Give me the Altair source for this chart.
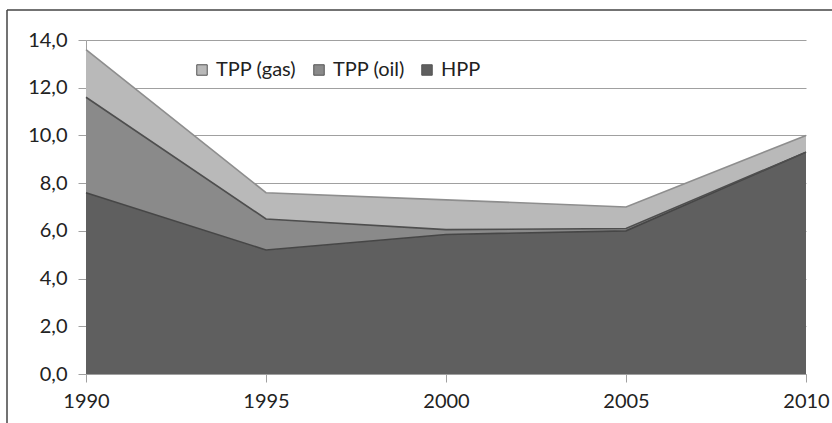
import altair as alt
import pandas as pd

# Electricity generation by source, stacked
years = [1990, 1995, 2000, 2005, 2010]
hpp = [7.6, 5.2, 5.85, 6.0, 9.3]
tpp_oil = [4.0, 1.3, 0.2, 0.1, 0.0]
tpp_gas = [2.0, 1.1, 1.25, 0.9, 0.7]

series = ["TPP (gas)", "TPP (oil)", "HPP"]
fills = ["#b9b9b9", "#8a8a8a", "#5f5f5f"]
edges = ["#8e8e8e", "#4e4e4e", "#464646"]

rows = []
for i, yr in enumerate(years):
    base = 0.0
    for name, vals in (("HPP", hpp), ("TPP (oil)", tpp_oil), ("TPP (gas)", tpp_gas)):
        top = base + vals[i]
        rows.append({"year": yr, "source": name, "lower": base, "upper": top})
        base = top
df = pd.DataFrame(rows)

FONT = "Lato"
FS = 20
W, H = 720, 334
PAD_L, PAD_T = 86, 40

x = alt.X(
    "year:Q",
    scale=alt.Scale(domain=[1990, 2010], nice=False),
    axis=alt.Axis(
        values=years, format="d", title=None, grid=False,
        tickSize=8, tickColor="#a0a0a0", domainColor="#a0a0a0",
        labelPadding=9, labelFontSize=FS, labelFont=FONT, labelColor="#222222",
        labelFlush=False,
    ),
)
y_axis = alt.Axis(
    values=list(range(0, 15, 2)), title=None,
    labelExpr="replace(format(datum.value, '.1f'), '.', ',')",
    tickSize=8, tickColor="#a0a0a0", domainColor="#a0a0a0",
    gridColor="#a0a0a0", gridWidth=1,
    labelPadding=11, labelFontSize=FS, labelFont=FONT, labelColor="#222222",
)

areas = alt.Chart(df).mark_area(opacity=1).encode(
    x=x,
    y=alt.Y("upper:Q", scale=alt.Scale(domain=[0, 14], nice=False), axis=y_axis),
    y2="lower:Q",
    fill=alt.Fill(
        "source:N",
        scale=alt.Scale(domain=series, range=fills),
        legend=alt.Legend(
            title=None, orient="none", direction="horizontal",
            legendX=106, legendY=20,
            symbolType="square", symbolSize=110,
            symbolStrokeColor="#555555", symbolStrokeWidth=1,
            labelFont=FONT, labelFontSize=FS, labelColor="#222222",
            columnPadding=12, labelOffset=4,
        ),
    ),
)

edge_lines = alt.Chart(df).mark_line(strokeWidth=1.6).encode(
    x="year:Q",
    y="upper:Q",
    stroke=alt.Stroke("source:N", scale=alt.Scale(domain=series, range=edges), legend=None),
)

frame_data = alt.Data(values=[{"k": 1}])
frame_top = alt.Chart(frame_data).mark_rule(color="#444444", strokeWidth=1.5).encode(
    x=alt.value(7 - PAD_L), x2=alt.value(832 - PAD_L + 5), y=alt.value(10 - PAD_T)
)
frame_left = alt.Chart(frame_data).mark_rule(color="#444444", strokeWidth=1.5).encode(
    x=alt.value(7 - PAD_L), y=alt.value(10 - PAD_T), y2=alt.value(423 - PAD_T + 5)
)

chart = (
    alt.layer(areas, edge_lines, frame_top, frame_left)
    .resolve_scale(fill="independent", stroke="independent")
    .properties(
        width=W, height=H,
        autosize=alt.AutoSizeParams(type="none"),
        padding={"left": PAD_L, "top": PAD_T, "right": 832 - PAD_L - W, "bottom": 423 - PAD_T - H},
        background="white",
    )
    .configure_view(stroke=None)
)

chart.save("out.html", embed_options={"renderer": "svg", "actions": False})
